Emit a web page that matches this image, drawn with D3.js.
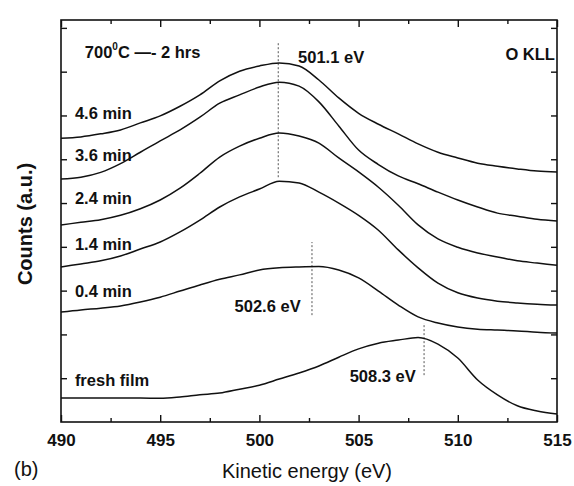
<!DOCTYPE html>
<html>
<head>
<meta charset="utf-8">
<script src="https://cdn.jsdelivr.net/npm/d3@7"></script>
<style>
  body { margin: 0; background: #fff; }
  text { font-family: "Liberation Sans", Arial, Helvetica, sans-serif; fill: #111; }
  .lbl { font-weight: bold; font-size: 16.5px; }
  .tick text { font-weight: bold; font-size: 17px; }
</style>
</head>
<body>
<div class="js-chart"></div>
<script>
// Kinetic energy grid (eV)
var energies = [490, 491, 492, 493, 494, 495, 496, 497, 498, 499, 500, 501, 502,
                503, 504, 505, 506, 507, 508, 509, 510, 511, 512, 513, 514, 515];

// Spectra, counts in arbitrary units (one unit = one y tick), bottom to top
var freshFilm = [0.55, 0.55, 0.55, 0.55, 0.55, 0.54, 0.57, 0.62, 0.66, 0.75, 0.84, 0.98, 1.12,
                 1.28, 1.48, 1.67, 1.80, 1.87, 1.93, 1.78, 1.46, 0.96, 0.62, 0.37, 0.25, 0.18];
var min04 = [2.51, 2.56, 2.60, 2.65, 2.74, 2.85, 2.99, 3.13, 3.26, 3.36, 3.47, 3.52, 3.54,
             3.55, 3.47, 3.29, 2.99, 2.67, 2.40, 2.26, 2.17, 2.12, 2.10, 2.08, 2.05, 2.03];
var min14 = [3.54, 3.61, 3.68, 3.79, 3.95, 4.11, 4.34, 4.61, 4.91, 5.14, 5.32, 5.50, 5.46,
             5.25, 5.00, 4.72, 4.38, 3.93, 3.52, 3.17, 2.95, 2.83, 2.76, 2.72, 2.69, 2.67];
var min24 = [4.50, 4.56, 4.62, 4.72, 4.87, 5.07, 5.34, 5.68, 6.05, 6.30, 6.48, 6.60, 6.53,
             6.37, 6.03, 5.71, 5.36, 4.95, 4.50, 4.18, 3.99, 3.86, 3.77, 3.68, 3.63, 3.58];
var min36 = [5.55, 5.59, 5.70, 5.90, 6.16, 6.42, 6.67, 6.96, 7.28, 7.47, 7.65, 7.76, 7.67,
             7.31, 6.76, 6.21, 5.88, 5.62, 5.44, 5.25, 5.07, 4.91, 4.77, 4.70, 4.63, 4.59];
var min46 = [6.48, 6.51, 6.58, 6.67, 6.83, 6.99, 7.21, 7.47, 7.79, 8.01, 8.13, 8.20, 8.13,
             7.81, 7.40, 7.05, 6.80, 6.58, 6.35, 6.16, 6.03, 5.91, 5.84, 5.78, 5.73, 5.71];

var seriesNames = ['fresh film', '0.4 min', '1.4 min', '2.4 min', '3.6 min', '4.6 min'];

// Peak markers: where the dotted line sits, its text, and its vertical span
var peakEnergies = [500.95, 502.65, 508.3];
var peakLabels = ['501.1 eV', '502.6 eV', '508.3 eV'];
var peakSpans = [[5.59, 8.68], [2.44, 4.11], [1.07, 2.26]];

var xTicks = [490, 495, 500, 505, 510, 515];
var xMinorTicks = [492.5, 497.5, 502.5, 507.5, 512.5];
var yTicks = [1, 2, 3, 4, 5, 6, 7, 8, 9];

;(function() {
  'use strict';

  var totalW = 574,
      totalH = 486,
      margin = {top: 20, right: 17, bottom: 64, left: 61};

  var chartW = totalW - margin.left - margin.right,
      chartH = totalH - margin.top - margin.bottom;

  var svg = d3.select('.js-chart')
              .append('svg')
                .attr('width', totalW)
                .attr('height', totalH);

  var g = svg.append('g')
              .attr('transform', 'translate(' + margin.left + ',' + margin.top + ')');

  var x = d3.scaleLinear().domain([490, 515]).range([0, chartW]);
  var y = d3.scaleLinear().domain([0, 9.18]).range([chartH, 0]);

  // Axes: all ticks point inwards, only the bottom one has labels.
  g.append('g')
      .attr('class', 'axis axis-b')
      .attr('transform', 'translate(0,' + chartH + ')')
      .call(d3.axisBottom(x).tickValues(xTicks).tickSize(-7).tickPadding(12)
              .tickFormat(d3.format('d')));
  g.append('g')
      .attr('transform', 'translate(0,' + chartH + ')')
      .call(d3.axisBottom(x).tickValues(xMinorTicks).tickSize(-4).tickFormat(''));
  g.append('g')
      .call(d3.axisTop(x).tickValues(xTicks).tickSize(-7).tickFormat(''));
  g.append('g')
      .call(d3.axisTop(x).tickValues(xMinorTicks).tickSize(-4).tickFormat(''));
  g.append('g')
      .call(d3.axisLeft(y).tickValues(yTicks).tickSize(-6).tickFormat(''));
  g.append('g')
      .attr('transform', 'translate(' + chartW + ',0)')
      .call(d3.axisRight(y).tickValues(yTicks).tickSize(-6).tickFormat(''));

  g.selectAll('.domain').remove();
  g.selectAll('.tick line').attr('stroke', '#111').attr('stroke-width', 1.4);
  g.selectAll('.axis-b .tick text').attr('fill', '#111');

  g.append('rect')
      .attr('width', chartW)
      .attr('height', chartH)
      .attr('fill', 'none')
      .attr('stroke', '#111')
      .attr('stroke-width', 1.6);

  // Dotted peak markers
  peakEnergies.forEach(function(e, i) {
    g.append('line')
        .attr('x1', x(e)).attr('x2', x(e))
        .attr('y1', y(peakSpans[i][0])).attr('y2', y(peakSpans[i][1]))
        .attr('stroke', '#555')
        .attr('stroke-width', 1)
        .attr('stroke-dasharray', '2,2');
  });

  // Spectra
  var allSeries = [freshFilm, min04, min14, min24, min36, min46];
  var line = d3.line()
                .x(function(d, i) { return x(energies[i]); })
                .y(function(d) { return y(d); })
                .curve(d3.curveMonotoneX);

  g.selectAll('.js-line')
      .data(allSeries)
    .enter().append('path')
      .attr('class', 'js-line')
      .attr('d', line)
      .attr('fill', 'none')
      .attr('stroke', '#111')
      .attr('stroke-width', 1.5);

  // Series labels sit just above the left end of each curve
  var labelValues = [0.82, 2.85, 3.93, 4.98, 5.96, 6.92];
  g.selectAll('.series-label')
      .data(seriesNames)
    .enter().append('text')
      .attr('class', 'lbl series-label')
      .attr('x', x(490.7))
      .attr('y', function(d, i) { return y(labelValues[i]); })
      .text(function(d) { return d; });

  // Peak labels
  var peakLabelPos = [[501.95, 8.20], [498.75, 2.51], [504.55, 0.91]];
  peakLabels.forEach(function(t, i) {
    g.append('text')
        .attr('class', 'lbl')
        .attr('x', x(peakLabelPos[i][0]))
        .attr('y', y(peakLabelPos[i][1]))
        .text(t);
  });

  // Sample and line name
  var cond = g.append('text')
      .attr('class', 'lbl')
      .attr('x', x(491.2))
      .attr('y', y(8.31));
  cond.append('tspan').text('700');
  cond.append('tspan').attr('font-size', '10px').attr('dy', -8).text('0');
  cond.append('tspan').attr('dy', 8).text('C \u2014- 2 hrs');

  g.append('text')
      .attr('class', 'lbl')
      .attr('x', x(512.4))
      .attr('y', y(8.26))
      .text('O KLL');

  // Axis titles
  svg.append('text')
      .attr('transform', 'translate(32,' + (margin.top + 204) + ') rotate(-90)')
      .attr('text-anchor', 'middle')
      .style('font-weight', 'bold')
      .style('font-size', '20px')
      .text('Counts (a.u.)');

  svg.append('text')
      .attr('x', 307)
      .attr('y', 478)
      .attr('text-anchor', 'middle')
      .style('font-size', '20px')
      .text('Kinetic energy (eV)');

  svg.append('text')
      .attr('x', 14)
      .attr('y', 476)
      .style('font-size', '20px')
      .text('(b)');
}());
</script>
</body>
</html>
